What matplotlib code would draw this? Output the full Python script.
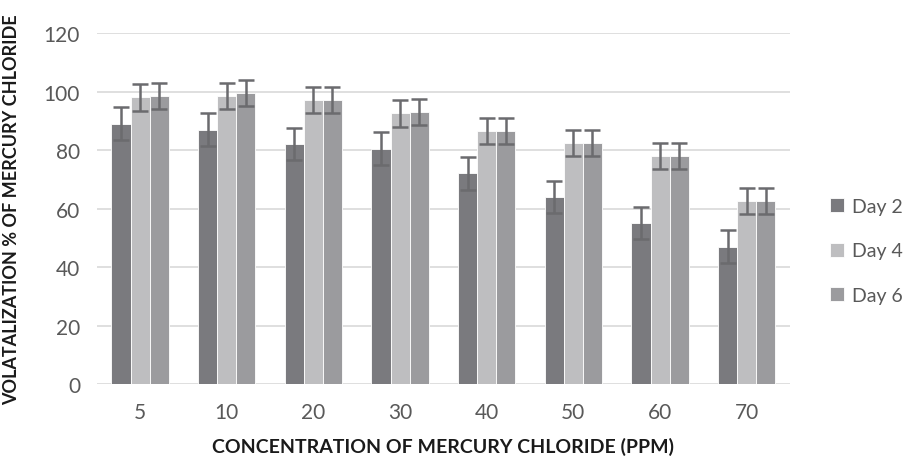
import numpy as np
import matplotlib
matplotlib.use('Agg')
import matplotlib.pyplot as plt

plt.rcParams['font.family'] = ['Lato', 'DejaVu Sans']

# data
concentrations = ['5', '10', '20', '30', '40', '50', '60', '70']
day2 = [89, 87, 82, 80.5, 72, 64, 55, 47]
day4 = [98, 98.5, 97, 92.5, 86.5, 82.5, 78, 62.5]
day6 = [98.5, 99.5, 97, 93, 86.5, 82.5, 78, 62.5]
err2 = [5.7, 5.5, 5.5, 5.5, 5.5, 5.5, 5.5, 5.5]
err4 = [4.5, 4.5, 4.5, 4.5, 4.5, 4.5, 4.5, 4.5]
err6 = [4.5, 4.5, 4.5, 4.5, 4.5, 4.5, 4.5, 4.5]

series = [('Day 2', day2, err2, '#7a7a7e'),
          ('Day 4', day4, err4, '#bebec0'),
          ('Day 6', day6, err6, '#9b9b9e')]

fig = plt.figure(figsize=(9.04, 4.6), dpi=100)
ax = fig.add_axes([0.107, 0.163, 0.767, 0.763])

x = np.arange(len(concentrations))
w = 0.22
for i, (name, vals, errs, col) in enumerate(series):
    ax.bar(x + (i - 1) * w, vals, w, color=col, edgecolor='white', linewidth=0.6,
           label=name, zorder=2)
    ax.errorbar(x + (i - 1) * w, vals, yerr=errs, fmt='none', ecolor='#6b6b6e',
                elinewidth=1.8, capsize=6, capthick=1.8, zorder=3)

ax.set_ylim(0, 120)
ax.set_yticks(range(0, 121, 20))
ax.set_xlim(-0.5, len(concentrations) - 0.5)
ax.set_xticks(x)
ax.set_xticklabels(concentrations)
ax.grid(axis='y', color='#d9d9d9', linewidth=1.2, zorder=0)
ax.set_axisbelow(True)
for s in ['top', 'right', 'left', 'bottom']:
    ax.spines[s].set_visible(False)
ax.tick_params(length=0, labelsize=15, colors='#595959')
ax.tick_params(axis='x', pad=13)
ax.tick_params(axis='y', pad=12)

ax.set_xlabel('CONCENTRATION OF MERCURY CHLORIDE (PPM)', fontsize=14,
              fontweight='bold', color='#1a1a1a', labelpad=11)
ax.set_ylabel('VOLATALIZATION % OF MERCURY CHLORIDE', fontsize=13,
              fontweight='bold', color='#1a1a1a', labelpad=17)

ax.legend(loc='center left', bbox_to_anchor=(1.032, 0.379), frameon=False,
          fontsize=14, labelcolor='#595959', handlelength=0.75, handleheight=0.75,
          labelspacing=1.42, handletextpad=0.4)

fig.savefig('out.png', dpi=100)
